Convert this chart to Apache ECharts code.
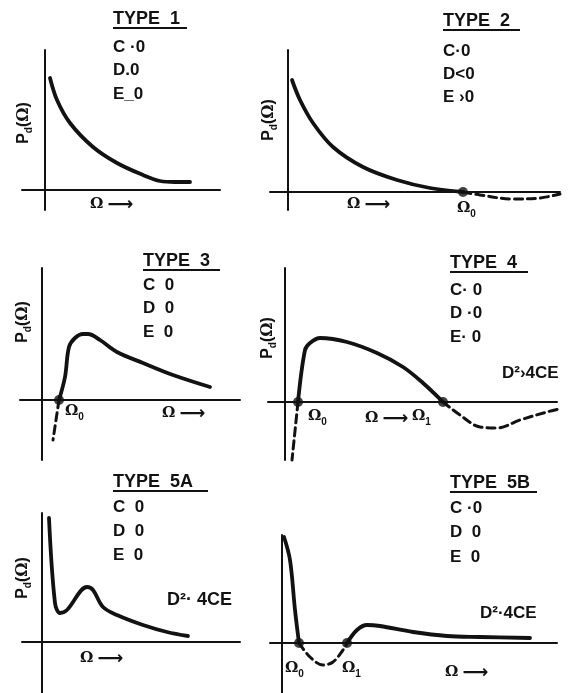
<!DOCTYPE html>
<html><head><meta charset="utf-8">
<script src="https://cdn.jsdelivr.net/npm/echarts@6/dist/echarts.min.js"></script>
<style>html,body{margin:0;padding:0;background:#fff}#c{width:580px;height:693px}</style>
</head><body><div id="c"></div>
<script>
// ---- data (x = Ω, y = Pd(Ω), arbitrary units, axis origin = 0,0) ----
const type1Curve = [[5,112],[12,90],[25,67],[48,43],[72,27],[98,15],[115,9],[130,8],[145,8]];

const type2Curve = [[4,112],[12,92],[25,69],[45,45],[75,25],[109,12],[142,4],[175,0]];
const type2Tail  = [[175,0],[192,-3],[225,-7],[252,-6],[272,-2]];
const type2Roots = [[175,0]];

const type3Curve = [[17,0],[23,23],[27,53],[33,62],[41,66],[46,66],[58,60],[75,48],[101,37],[131,25],[168,13]];
const type3Head  = [[17,0],[11,-40]];
const type3Roots = [[17,0]];

const type4Curve = [[13,0],[20,52],[25,59],[35,64],[62,60],[92,49],[118,35],[138,19],[158,0]];
const type4Head  = [[13,0],[7,-58]];
const type4Tail  = [[158,0],[175,-13],[195,-25],[212,-26],[235,-18],[262,-10],[278,-6]];
const type4Roots = [[13,0],[158,0]];

const type5aCurve = [[7,124],[13,39],[18,29],[25,32],[45,55],[51,52],[61,35],[75,27],[101,17],[125,10],[146,6]];

const type5bHead  = [[2,106],[8,83],[13,33],[17,0]];
const type5bDip   = [[17,0],[28,-14],[41,-22],[51,-19],[61,-7],[65,0]];
const type5bCurve = [[65,0],[75,13],[85,18],[98,17],[131,11],[165,7],[198,6],[248,5]];
const type5bRoots = [[17,0],[65,0]];

// ---- texts ----
const titles = ['TYPE  1','TYPE  2','TYPE  3','TYPE  4','TYPE  5A','TYPE  5B'];
const conditions = [
  ['C ·0','D.0','E_0'],
  ['C·0','D<0','E ›0'],
  ['C  0','D  0','E  0'],
  ['C· 0','D ·0','E· 0'],
  ['C  0','D  0','E  0'],
  ['C ·0','D  0','E  0']
];
const discriminants = ['', '', '', 'D²›4CE', 'D²· 4CE', 'D²·4CE'];

// ---- layout ----
const INK = '#121212';
// [left, top, xmin, xmax, ymin, ymax]  (1 unit = 1 px)
const frames = [
  [22, 50, -23, 175, -20, 140],
  [270, 50, -18, 272, -18, 142],
  [20, 268, -22, 198, -60, 132],
  [268, 268, -17, 272, -58, 134],
  [22, 513, -20, 198, -51, 129],
  [270, 535, -12, 275, -50, 108]
];

const grids = [], xAxes = [], yAxes = [];
frames.forEach((f, i) => {
  grids.push({left: f[0], top: f[1], width: f[3] - f[2], height: f[5] - f[4], containLabel: false});
  const ax = {
    type: 'value', gridIndex: i, splitLine: {show: false}, axisTick: {show: false},
    axisLabel: {show: false}, axisLine: {show: true, onZero: true, lineStyle: {color: INK, width: 2}}
  };
  xAxes.push(Object.assign({}, ax, {min: f[2], max: f[3]}));
  yAxes.push(Object.assign({}, ax, {min: f[4], max: f[5]}));
});

function line(i, data, dashed) {
  return {
    type: 'line', xAxisIndex: i, yAxisIndex: i, data: data, smooth: 0.35, showSymbol: false,
    clip: false, silent: true, z: 3,
    lineStyle: {color: INK, width: dashed ? 3 : 3.8, type: dashed ? [8, 5] : 'solid', cap: 'round', join: 'round'}
  };
}
function roots(i, data) {
  return {type: 'scatter', xAxisIndex: i, yAxisIndex: i, data: data, symbolSize: 10, z: 4,
    itemStyle: {color: INK}, silent: true};
}

const series = [
  line(0, type1Curve),
  line(1, type2Curve), line(1, type2Tail, true), roots(1, type2Roots),
  line(2, type3Curve), line(2, type3Head, true), roots(2, type3Roots),
  line(3, type4Curve), line(3, type4Head, true), line(3, type4Tail, true), roots(3, type4Roots),
  line(4, type5aCurve),
  line(5, type5bHead), line(5, type5bDip, true), line(5, type5bCurve), roots(5, type5bRoots)
];

// ---- text graphics ----
const SANS = '"Liberation Sans", Arial, sans-serif';
const SERIF = '"DejaVu Serif", "Liberation Serif", serif';
const g = [];
function txt(x, y, text, size, opts) {
  opts = opts || {};
  g.push({type: 'text', x: x, y: y, rotation: opts.rotation || 0, z: 10, silent: true,
    style: Object.assign({text: text, fill: INK, fontFamily: opts.family || SANS, fontWeight: 'bold',
      fontSize: size, align: opts.align || 'left', verticalAlign: 'middle'}, opts.style || {})});
}
function rule(x1, x2, y) {
  g.push({type: 'line', z: 10, silent: true, shape: {x1: x1, y1: y, x2: x2, y2: y}, style: {stroke: INK, lineWidth: 2}});
}

// title positions [x, y, underlineEnd, condY0, condStep]
const heads = [
  [113, 19, 187, 47, 23.5],
  [443, 21, 520, 51, 23],
  [143, 261, 220, 285, 23.5],
  [450, 263, 528, 290, 23.5],
  [113, 482, 208, 507, 24],
  [450, 483, 537, 508, 24.5]
];
heads.forEach((h, i) => {
  txt(h[0], h[1], titles[i], 18);
  rule(h[0], h[2], h[1] + 9);
  conditions[i].forEach((c, k) => txt(h[0], h[3] + k * h[4], c, 17));
});
txt(502, 373, discriminants[3], 17);
txt(167, 600, discriminants[4], 18);
txt(480, 613, discriminants[5], 17);

// y-axis names Pd(Ω)
const pdRich = {
  p: {fontSize: 16, fontWeight: 'bold', fontFamily: SANS, lineHeight: 16, verticalAlign: 'top'},
  s: {fontSize: 10, fontWeight: 'bold', fontFamily: SANS, lineHeight: 19, verticalAlign: 'bottom'},
  o: {fontSize: 16, fontWeight: 'bold', fontFamily: SERIF, lineHeight: 16, verticalAlign: 'top'}
};
[[25, 123], [270, 120], [24, 322], [269, 338], [24, 578]].forEach(p => {
  txt(p[0], p[1], '{p|P}{s|d}{p|(}{o|Ω}{p|)}', 16, {align: 'center', rotation: Math.PI / 2, style: {rich: pdRich}});
});

// Ω labels
const omRich = {
  o: {fontSize: 15, fontWeight: 'bold', fontFamily: SERIF, lineHeight: 15, verticalAlign: 'top'},
  s: {fontSize: 10, fontWeight: 'bold', fontFamily: SANS, lineHeight: 19, verticalAlign: 'bottom'},
  a: {fontSize: 18, fontWeight: 'bold', fontFamily: '"DejaVu Sans", sans-serif', lineHeight: 15, verticalAlign: 'top'}
};
function omega(x, y, sub) {
  txt(x, y, '{o|Ω}{s|' + sub + '}', 15, {style: {rich: omRich}});
}
function omArrow(x, y) {
  txt(x, y, '{o|Ω} {a|⟶}', 15, {style: {rich: omRich}});
}
omArrow(90, 204);
omArrow(347, 204); omega(457, 210, '0');
omega(65, 413, '0'); omArrow(162, 413);
omega(308, 418, '0'); omArrow(365, 418); omega(412, 418, '1');
omArrow(80, 658);
omega(285, 670, '0'); omega(342, 670, '1'); omArrow(445, 672);

const chart = echarts.init(document.getElementById('c'), null, {renderer: 'canvas'});
chart.setOption({
  animation: false,
  backgroundColor: '#ffffff',
  grid: grids, xAxis: xAxes, yAxis: yAxes,
  series: series,
  graphic: g
});
</script>
</body></html>
